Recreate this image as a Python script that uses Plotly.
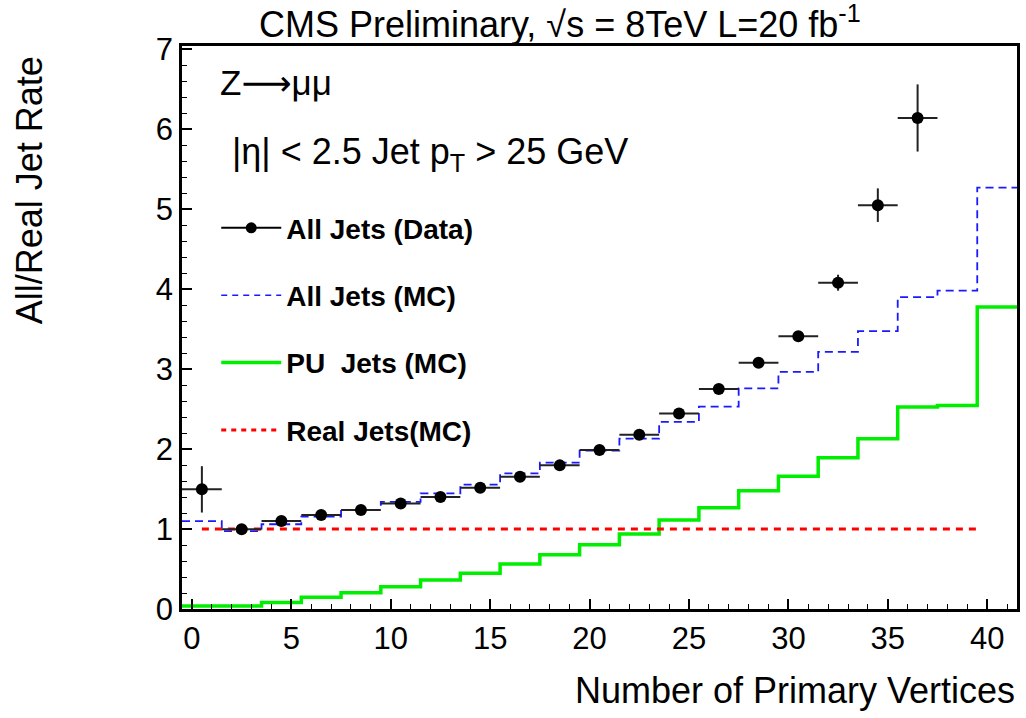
import numpy as np
import plotly.graph_objects as go

# ---------------- data ----------------
bin_centers = [0.5, 2.5, 4.5, 6.5, 8.5, 10.5, 12.5, 14.5, 16.5, 18.5, 20.5,
               22.5, 24.5, 26.5, 28.5, 30.5, 32.5, 34.5, 36.5, 38.5, 40.5]
bin_half_width = 1.0

all_mc = [1.10, 0.975, 1.06, 1.155, 1.24, 1.34, 1.445, 1.555, 1.695, 1.83, 1.98,
          2.13, 2.34, 2.53, 2.76, 2.965, 3.215, 3.475, 3.90, 3.98, 5.27]
pu_mc = [0.0375, 0.0375, 0.08, 0.146, 0.204, 0.279, 0.3625, 0.446, 0.5625, 0.679, 0.804,
         0.9375, 1.1125, 1.266, 1.48, 1.66, 1.89, 2.13, 2.525, 2.545, 3.775]

data_x = [0.5, 2.5, 4.5, 6.5, 8.5, 10.5, 12.5, 14.5, 16.5, 18.5,
          20.5, 22.5, 24.5, 26.5, 28.5, 30.5, 32.5, 34.5, 36.5]
data_y = [1.496, 0.996, 1.10, 1.175, 1.2375, 1.32, 1.40, 1.516, 1.654, 1.796,
          1.9875, 2.179, 2.446, 2.75, 3.079, 3.41, 4.08, 5.05, 6.14]
data_yerr = [0.29, 0.02, 0.02, 0.02, 0.02, 0.02, 0.02, 0.02, 0.02, 0.02,
             0.02, 0.02, 0.02, 0.03, 0.03, 0.05, 0.10, 0.21, 0.42]

real_x = [0.5, 39.5]
real_y = [1.0, 1.0]

x_ticks = [0, 5, 10, 15, 20, 25, 30, 35, 40]
y_ticks = [0, 1, 2, 3, 4, 5, 6, 7]

# ---------------- helpers ----------------
centers = np.array(bin_centers)
edges = np.append(centers - bin_half_width, centers[-1] + bin_half_width)


def step_y(vals):
    return list(vals) + [vals[-1]]


FONT = "Liberation Sans, Arial, Helvetica, sans-serif"

fig = go.Figure()

# All jets MC (blue dashed step)
fig.add_trace(go.Scatter(
    x=edges, y=step_y(all_mc), mode="lines", line_shape="hv",
    line=dict(color="#1a1aff", width=1.8, dash="8px,5px"),
    showlegend=False, hoverinfo="skip"))

# PU jets MC (green solid step)
fig.add_trace(go.Scatter(
    x=edges, y=step_y(pu_mc), mode="lines", line_shape="hv",
    line=dict(color="#00ee00", width=3.5),
    showlegend=False, hoverinfo="skip"))

# Real jets MC (red dashed)
fig.add_trace(go.Scatter(
    x=real_x, y=real_y, mode="lines",
    line=dict(color="#ff0000", width=3, dash="7px,6px"),
    showlegend=False, hoverinfo="skip"))

# Data points
fig.add_trace(go.Scatter(
    x=data_x, y=data_y, mode="markers",
    marker=dict(color="black", size=12, symbol="circle"),
    error_y=dict(type="data", array=data_yerr, color="#222222", thickness=2, width=0),
    error_x=dict(type="data", array=[bin_half_width] * len(data_x), color="#222222",
                 thickness=2, width=0),
    showlegend=False))

# legend entries
fig.add_trace(go.Scatter(x=[None], y=[None], mode="lines+markers", name="All Jets (Data)",
                         line=dict(color="black", width=2), marker=dict(color="black", size=11),
                         legendgroup="a"))
fig.add_trace(go.Scatter(x=[None], y=[None], mode="lines", name="All Jets (MC)",
                         line=dict(color="#1a1aff", width=1.5, dash="6px,5px"),
                         legendgroup="b"))
fig.add_trace(go.Scatter(x=[None], y=[None], mode="lines", name="PU\u00a0\u00a0Jets (MC)",
                         line=dict(color="#00ee00", width=3.5), legendgroup="c"))
fig.add_trace(go.Scatter(x=[None], y=[None], mode="lines", name="Real Jets(MC)",
                         line=dict(color="#ff0000", width=3, dash="5px,5px"),
                         legendgroup="d"))

fig.update_layout(
    width=1026, height=718,
    margin=dict(l=182, r=6, t=46, b=109),
    paper_bgcolor="white", plot_bgcolor="white",
    font=dict(family=FONT, color="black"),
    showlegend=True,
    legend=dict(x=0.041, xanchor="left", y=0.721, yanchor="top",
                bgcolor="rgba(0,0,0,0)", borderwidth=0,
                font=dict(family=FONT, size=28, color="black", weight="bold"),
                itemwidth=60, tracegroupgap=28, traceorder="grouped",
                itemclick=False, itemdoubleclick=False),
    xaxis=dict(range=[-0.5, 41.5], tickvals=x_ticks, ticks="inside", ticklen=10,
               tickwidth=1.5, tickcolor="black",
               minor=dict(dtick=1, ticks="inside", ticklen=5, tickwidth=1.2, tickcolor="black"),
               showline=True, linewidth=2.5, linecolor="black", mirror=True,
               showgrid=False, zeroline=False,
               tickfont=dict(family=FONT, size=31, color="black")),
    yaxis=dict(range=[0, 7.04], tickvals=y_ticks, ticks="inside", ticklen=10,
               tickwidth=1.5, tickcolor="black",
               minor=dict(dtick=0.2, ticks="inside", ticklen=5, tickwidth=1.2, tickcolor="black"),
               showline=True, linewidth=2.5, linecolor="black", mirror=True,
               showgrid=False, zeroline=False,
               tickfont=dict(family=FONT, size=31, color="black")),
)

annotations = [
    dict(text="CMS Preliminary, \u221As = 8TeV L=20 fb<sup>-1</sup>", x=0.4530, y=1.0426,
         xref="paper", yref="paper", xanchor="center", yanchor="middle",
         showarrow=False, font=dict(family=FONT, size=36)),
    dict(text="Z<span style='font-family:DejaVu Sans'>\u27f6</span>\u03bc\u03bc",
         x=0.043, y=0.934, xref="paper", yref="paper",
         xanchor="left", yanchor="middle", showarrow=False, font=dict(family=FONT, size=35)),
    dict(text="|\u03b7| < 2.5 Jet p<sub>T</sub> > 25 GeV", x=0.057, y=0.808,
         xref="paper", yref="paper", xanchor="left", yanchor="middle",
         showarrow=False, font=dict(family=FONT, size=36)),
    dict(text="All/Real Jet Rate", x=-0.183, y=0.744, xref="paper", yref="paper",
         xanchor="center", yanchor="middle", textangle=-90, showarrow=False,
         font=dict(family=FONT, size=36)),
    dict(text="Number of Primary Vertices", x=1.0, y=-0.144, xref="paper", yref="paper",
         xanchor="right", yanchor="middle", showarrow=False, font=dict(family=FONT, size=36)),
]
fig.update_layout(annotations=annotations)

fig.write_html("out.html")
